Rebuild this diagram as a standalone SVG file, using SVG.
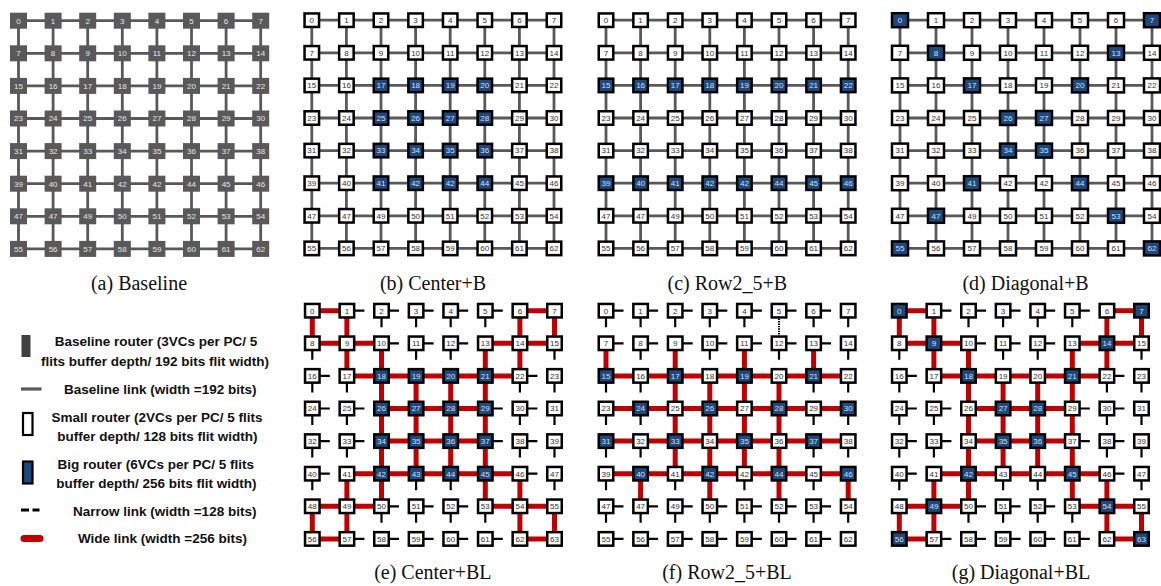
<svg xmlns="http://www.w3.org/2000/svg" xmlns:xlink="http://www.w3.org/1999/xlink" width="1161" height="586" viewBox="0 0 1161 586">
<style>
.nd text{font-family:"Liberation Sans",Arial,sans-serif;font-size:8px;text-anchor:middle;fill:#333}
#nodes-a text{fill:#e6e6e6}
.nd .bn text{fill:#d5dff0}
.gl{fill:none;stroke:#595959;stroke-width:2.8}
.wl{fill:none;stroke:#C00000;stroke-width:5;stroke-linecap:round}
.st{fill:none;stroke:#000;stroke-width:2.2}
.dt{fill:none;stroke:#000;stroke-width:2;stroke-dasharray:1.4 1}
.cap{font-family:"Liberation Serif","Times New Roman",serif;font-size:20px;text-anchor:middle;fill:#111}
.lg{font-family:"Liberation Sans",Arial,sans-serif;font-size:13.5px;font-weight:bold;text-anchor:middle;fill:#111}
</style>
<defs>
<rect id="G" x="-8.5" y="-8" width="17" height="16" fill="#595959"/>
<rect id="W" x="-7.25" y="-6.75" width="14.5" height="13.5" fill="#fff" stroke="#000" stroke-width="2.5"/>
<rect id="B" x="-7.25" y="-6.75" width="14.5" height="13.5" fill="#1F497D" stroke="#000" stroke-width="2.5"/>
<rect id="W2" x="-8" y="-7" width="16" height="14" fill="#fff" stroke="#000" stroke-width="2.5"/>
<rect id="B2" x="-8" y="-7" width="16" height="14" fill="#1F497D" stroke="#000" stroke-width="2.5"/>
<path id="grid" d="M0 0H242.2M0 32.6H242.2M0 65.2H242.2M0 97.8H242.2M0 130.4H242.2M0 163H242.2M0 195.6H242.2M0 228.2H242.2M0 0V228.2M34.6 0V228.2M69.2 0V228.2M103.8 0V228.2M138.4 0V228.2M173 0V228.2M207.6 0V228.2M242.2 0V228.2"/>
<path id="grid2" d="M0 0H252M0 32.6H252M0 65.2H252M0 97.8H252M0 130.4H252M0 163H252M0 195.6H252M0 228.2H252M0 0V228.2M36 0V228.2M72 0V228.2M108 0V228.2M144 0V228.2M180 0V228.2M216 0V228.2M252 0V228.2"/>
<path id="wideEG" d="M0 0H34.6M207.6 0H242.2M0 32.6H69.2M173 32.6H242.2M34.6 65.2H207.6M69.2 97.8H173M69.2 130.4H173M34.6 163H207.6M0 195.6H69.2M173 195.6H242.2M0 228.2H34.6M207.6 228.2H242.2M0 0V32.6M0 195.6V228.2M34.6 0V65.2M34.6 163V228.2M69.2 32.6V195.6M103.8 65.2V163M138.4 65.2V163M173 32.6V195.6M207.6 0V65.2M207.6 163V228.2M242.2 0V32.6M242.2 195.6V228.2"/>
<path id="stubEG" d="M34.6 0h17.5M69.2 0h17.5M103.8 0h17.5M138.4 0h17.5M173 0h17.5M69.2 32.6h17.5M103.8 32.6h17.5M138.4 32.6h17.5M0 65.2h17.5M207.6 65.2h17.5M0 97.8h17.5M34.6 97.8h17.5M173 97.8h17.5M207.6 97.8h17.5M0 130.4h17.5M34.6 130.4h17.5M173 130.4h17.5M207.6 130.4h17.5M0 163h17.5M207.6 163h17.5M69.2 195.6h17.5M103.8 195.6h17.5M138.4 195.6h17.5M34.6 228.2h17.5M69.2 228.2h17.5M103.8 228.2h17.5M138.4 228.2h17.5M173 228.2h17.5M69.2 0v16.5M103.8 0v16.5M138.4 0v16.5M173 0v16.5M0 32.6v16.5M103.8 32.6v16.5M138.4 32.6v16.5M242.2 32.6v16.5M0 65.2v16.5M34.6 65.2v16.5M207.6 65.2v16.5M242.2 65.2v16.5M0 97.8v16.5M34.6 97.8v16.5M207.6 97.8v16.5M242.2 97.8v16.5M0 130.4v16.5M34.6 130.4v16.5M207.6 130.4v16.5M242.2 130.4v16.5M0 163v16.5M103.8 163v16.5M138.4 163v16.5M242.2 163v16.5M69.2 195.6v16.5M103.8 195.6v16.5M138.4 195.6v16.5M173 195.6v16.5"/>
</defs>
<rect width="1161" height="586" fill="#fff"/>
<g id="connectors">
<g id="links-a" transform="translate(18.5,20.7)"><use href="#grid" class="gl"/></g>
<g id="links-b" transform="translate(311.8,20.2)"><use href="#grid" class="gl"/></g>
<g id="links-c" transform="translate(606,20.2)"><use href="#grid" class="gl"/></g>
<g id="links-d" transform="translate(900,20.2)"><use href="#grid2" class="gl"/></g>
<g id="links-e" transform="translate(312.3,310.7)"><use href="#stubEG" class="st"/><use href="#wideEG" class="wl"/></g>
<g id="links-f" transform="translate(606,310.7)">
<path class="st" d="M0 0h17.5M34.6 0h17.5M69.2 0h17.5M103.8 0h17.5M138.4 0h17.5M173 0h17.5M207.6 0h17.5M0 32.6h17.5M34.6 32.6h17.5M69.2 32.6h17.5M103.8 32.6h17.5M138.4 32.6h17.5M173 32.6h17.5M207.6 32.6h17.5M0 195.6h17.5M34.6 195.6h17.5M69.2 195.6h17.5M103.8 195.6h17.5M138.4 195.6h17.5M173 195.6h17.5M207.6 195.6h17.5M0 228.2h17.5M34.6 228.2h17.5M69.2 228.2h17.5M103.8 228.2h17.5M138.4 228.2h17.5M173 228.2h17.5M207.6 228.2h17.5M0 0v16.5M34.6 0v16.5M69.2 0v16.5M103.8 0v16.5M138.4 0v16.5M207.6 0v16.5M242.2 0v16.5M34.6 32.6v16.5M103.8 32.6v16.5M173 32.6v16.5M242.2 32.6v16.5M0 65.2v16.5M34.6 65.2v16.5M207.6 65.2v16.5M242.2 65.2v16.5M0 97.8v16.5M34.6 97.8v16.5M207.6 97.8v16.5M242.2 97.8v16.5M0 130.4v16.5M34.6 130.4v16.5M207.6 130.4v16.5M242.2 130.4v16.5M0 163v16.5M69.2 163v16.5M138.4 163v16.5M207.6 163v16.5M0 195.6v16.5M34.6 195.6v16.5M69.2 195.6v16.5M103.8 195.6v16.5M138.4 195.6v16.5M173 195.6v16.5M207.6 195.6v16.5M242.2 195.6v16.5"/>
<path class="dt" d="M173 8V24.6"/>
<path class="wl" d="M0 65.2H242.2M0 97.8H242.2M0 130.4H242.2M0 163H242.2M0 32.6V65.2M34.6 163V195.6M69.2 32.6V163M103.8 65.2V195.6M138.4 32.6V163M173 65.2V195.6M207.6 32.6V65.2M242.2 163V195.6"/>
</g>
<g id="links-g" transform="translate(899.3,310.7)"><use href="#stubEG" class="st"/><use href="#wideEG" class="wl"/></g>
</g>

<g id="nodes-a" class="nd" transform="translate(18.5,20.7)">
<g id="a-r0c0"><use href="#G"/><text y="2.9">0</text></g>
<g id="a-r0c1"><use href="#G" x="34.6"/><text x="34.6" y="2.9">1</text></g>
<g id="a-r0c2"><use href="#G" x="69.2"/><text x="69.2" y="2.9">2</text></g>
<g id="a-r0c3"><use href="#G" x="103.8"/><text x="103.8" y="2.9">3</text></g>
<g id="a-r0c4"><use href="#G" x="138.4"/><text x="138.4" y="2.9">4</text></g>
<g id="a-r0c5"><use href="#G" x="173"/><text x="173" y="2.9">5</text></g>
<g id="a-r0c6"><use href="#G" x="207.6"/><text x="207.6" y="2.9">6</text></g>
<g id="a-r0c7"><use href="#G" x="242.2"/><text x="242.2" y="2.9">7</text></g>
<g id="a-r1c0"><use href="#G" y="32.6"/><text y="35.5">7</text></g>
<g id="a-r1c1"><use href="#G" x="34.6" y="32.6"/><text x="34.6" y="35.5">8</text></g>
<g id="a-r1c2"><use href="#G" x="69.2" y="32.6"/><text x="69.2" y="35.5">9</text></g>
<g id="a-r1c3"><use href="#G" x="103.8" y="32.6"/><text x="103.8" y="35.5">10</text></g>
<g id="a-r1c4"><use href="#G" x="138.4" y="32.6"/><text x="138.4" y="35.5">11</text></g>
<g id="a-r1c5"><use href="#G" x="173" y="32.6"/><text x="173" y="35.5">12</text></g>
<g id="a-r1c6"><use href="#G" x="207.6" y="32.6"/><text x="207.6" y="35.5">13</text></g>
<g id="a-r1c7"><use href="#G" x="242.2" y="32.6"/><text x="242.2" y="35.5">14</text></g>
<g id="a-r2c0"><use href="#G" y="65.2"/><text y="68.1">15</text></g>
<g id="a-r2c1"><use href="#G" x="34.6" y="65.2"/><text x="34.6" y="68.1">16</text></g>
<g id="a-r2c2"><use href="#G" x="69.2" y="65.2"/><text x="69.2" y="68.1">17</text></g>
<g id="a-r2c3"><use href="#G" x="103.8" y="65.2"/><text x="103.8" y="68.1">18</text></g>
<g id="a-r2c4"><use href="#G" x="138.4" y="65.2"/><text x="138.4" y="68.1">19</text></g>
<g id="a-r2c5"><use href="#G" x="173" y="65.2"/><text x="173" y="68.1">20</text></g>
<g id="a-r2c6"><use href="#G" x="207.6" y="65.2"/><text x="207.6" y="68.1">21</text></g>
<g id="a-r2c7"><use href="#G" x="242.2" y="65.2"/><text x="242.2" y="68.1">22</text></g>
<g id="a-r3c0"><use href="#G" y="97.8"/><text y="100.7">23</text></g>
<g id="a-r3c1"><use href="#G" x="34.6" y="97.8"/><text x="34.6" y="100.7">24</text></g>
<g id="a-r3c2"><use href="#G" x="69.2" y="97.8"/><text x="69.2" y="100.7">25</text></g>
<g id="a-r3c3"><use href="#G" x="103.8" y="97.8"/><text x="103.8" y="100.7">26</text></g>
<g id="a-r3c4"><use href="#G" x="138.4" y="97.8"/><text x="138.4" y="100.7">27</text></g>
<g id="a-r3c5"><use href="#G" x="173" y="97.8"/><text x="173" y="100.7">28</text></g>
<g id="a-r3c6"><use href="#G" x="207.6" y="97.8"/><text x="207.6" y="100.7">29</text></g>
<g id="a-r3c7"><use href="#G" x="242.2" y="97.8"/><text x="242.2" y="100.7">30</text></g>
<g id="a-r4c0"><use href="#G" y="130.4"/><text y="133.3">31</text></g>
<g id="a-r4c1"><use href="#G" x="34.6" y="130.4"/><text x="34.6" y="133.3">32</text></g>
<g id="a-r4c2"><use href="#G" x="69.2" y="130.4"/><text x="69.2" y="133.3">33</text></g>
<g id="a-r4c3"><use href="#G" x="103.8" y="130.4"/><text x="103.8" y="133.3">34</text></g>
<g id="a-r4c4"><use href="#G" x="138.4" y="130.4"/><text x="138.4" y="133.3">35</text></g>
<g id="a-r4c5"><use href="#G" x="173" y="130.4"/><text x="173" y="133.3">36</text></g>
<g id="a-r4c6"><use href="#G" x="207.6" y="130.4"/><text x="207.6" y="133.3">37</text></g>
<g id="a-r4c7"><use href="#G" x="242.2" y="130.4"/><text x="242.2" y="133.3">38</text></g>
<g id="a-r5c0"><use href="#G" y="163"/><text y="165.9">39</text></g>
<g id="a-r5c1"><use href="#G" x="34.6" y="163"/><text x="34.6" y="165.9">40</text></g>
<g id="a-r5c2"><use href="#G" x="69.2" y="163"/><text x="69.2" y="165.9">41</text></g>
<g id="a-r5c3"><use href="#G" x="103.8" y="163"/><text x="103.8" y="165.9">42</text></g>
<g id="a-r5c4"><use href="#G" x="138.4" y="163"/><text x="138.4" y="165.9">42</text></g>
<g id="a-r5c5"><use href="#G" x="173" y="163"/><text x="173" y="165.9">44</text></g>
<g id="a-r5c6"><use href="#G" x="207.6" y="163"/><text x="207.6" y="165.9">45</text></g>
<g id="a-r5c7"><use href="#G" x="242.2" y="163"/><text x="242.2" y="165.9">46</text></g>
<g id="a-r6c0"><use href="#G" y="195.6"/><text y="198.5">47</text></g>
<g id="a-r6c1"><use href="#G" x="34.6" y="195.6"/><text x="34.6" y="198.5">47</text></g>
<g id="a-r6c2"><use href="#G" x="69.2" y="195.6"/><text x="69.2" y="198.5">49</text></g>
<g id="a-r6c3"><use href="#G" x="103.8" y="195.6"/><text x="103.8" y="198.5">50</text></g>
<g id="a-r6c4"><use href="#G" x="138.4" y="195.6"/><text x="138.4" y="198.5">51</text></g>
<g id="a-r6c5"><use href="#G" x="173" y="195.6"/><text x="173" y="198.5">52</text></g>
<g id="a-r6c6"><use href="#G" x="207.6" y="195.6"/><text x="207.6" y="198.5">53</text></g>
<g id="a-r6c7"><use href="#G" x="242.2" y="195.6"/><text x="242.2" y="198.5">54</text></g>
<g id="a-r7c0"><use href="#G" y="228.2"/><text y="231.1">55</text></g>
<g id="a-r7c1"><use href="#G" x="34.6" y="228.2"/><text x="34.6" y="231.1">56</text></g>
<g id="a-r7c2"><use href="#G" x="69.2" y="228.2"/><text x="69.2" y="231.1">57</text></g>
<g id="a-r7c3"><use href="#G" x="103.8" y="228.2"/><text x="103.8" y="231.1">58</text></g>
<g id="a-r7c4"><use href="#G" x="138.4" y="228.2"/><text x="138.4" y="231.1">59</text></g>
<g id="a-r7c5"><use href="#G" x="173" y="228.2"/><text x="173" y="231.1">60</text></g>
<g id="a-r7c6"><use href="#G" x="207.6" y="228.2"/><text x="207.6" y="231.1">61</text></g>
<g id="a-r7c7"><use href="#G" x="242.2" y="228.2"/><text x="242.2" y="231.1">62</text></g>
</g>

<g id="nodes-b" class="nd" transform="translate(311.8,20.2)">
<g id="b-r0c0"><use href="#W"/><text y="2.9">0</text></g>
<g id="b-r0c1"><use href="#W" x="34.6"/><text x="34.6" y="2.9">1</text></g>
<g id="b-r0c2"><use href="#W" x="69.2"/><text x="69.2" y="2.9">2</text></g>
<g id="b-r0c3"><use href="#W" x="103.8"/><text x="103.8" y="2.9">3</text></g>
<g id="b-r0c4"><use href="#W" x="138.4"/><text x="138.4" y="2.9">4</text></g>
<g id="b-r0c5"><use href="#W" x="173"/><text x="173" y="2.9">5</text></g>
<g id="b-r0c6"><use href="#W" x="207.6"/><text x="207.6" y="2.9">6</text></g>
<g id="b-r0c7"><use href="#W" x="242.2"/><text x="242.2" y="2.9">7</text></g>
<g id="b-r1c0"><use href="#W" y="32.6"/><text y="35.5">7</text></g>
<g id="b-r1c1"><use href="#W" x="34.6" y="32.6"/><text x="34.6" y="35.5">8</text></g>
<g id="b-r1c2"><use href="#W" x="69.2" y="32.6"/><text x="69.2" y="35.5">9</text></g>
<g id="b-r1c3"><use href="#W" x="103.8" y="32.6"/><text x="103.8" y="35.5">10</text></g>
<g id="b-r1c4"><use href="#W" x="138.4" y="32.6"/><text x="138.4" y="35.5">11</text></g>
<g id="b-r1c5"><use href="#W" x="173" y="32.6"/><text x="173" y="35.5">12</text></g>
<g id="b-r1c6"><use href="#W" x="207.6" y="32.6"/><text x="207.6" y="35.5">13</text></g>
<g id="b-r1c7"><use href="#W" x="242.2" y="32.6"/><text x="242.2" y="35.5">14</text></g>
<g id="b-r2c0"><use href="#W" y="65.2"/><text y="68.1">15</text></g>
<g id="b-r2c1"><use href="#W" x="34.6" y="65.2"/><text x="34.6" y="68.1">16</text></g>
<g id="b-r2c2" class="bn"><use href="#B" x="69.2" y="65.2"/><text x="69.2" y="68.1">17</text></g>
<g id="b-r2c3" class="bn"><use href="#B" x="103.8" y="65.2"/><text x="103.8" y="68.1">18</text></g>
<g id="b-r2c4" class="bn"><use href="#B" x="138.4" y="65.2"/><text x="138.4" y="68.1">19</text></g>
<g id="b-r2c5" class="bn"><use href="#B" x="173" y="65.2"/><text x="173" y="68.1">20</text></g>
<g id="b-r2c6"><use href="#W" x="207.6" y="65.2"/><text x="207.6" y="68.1">21</text></g>
<g id="b-r2c7"><use href="#W" x="242.2" y="65.2"/><text x="242.2" y="68.1">22</text></g>
<g id="b-r3c0"><use href="#W" y="97.8"/><text y="100.7">23</text></g>
<g id="b-r3c1"><use href="#W" x="34.6" y="97.8"/><text x="34.6" y="100.7">24</text></g>
<g id="b-r3c2" class="bn"><use href="#B" x="69.2" y="97.8"/><text x="69.2" y="100.7">25</text></g>
<g id="b-r3c3" class="bn"><use href="#B" x="103.8" y="97.8"/><text x="103.8" y="100.7">26</text></g>
<g id="b-r3c4" class="bn"><use href="#B" x="138.4" y="97.8"/><text x="138.4" y="100.7">27</text></g>
<g id="b-r3c5" class="bn"><use href="#B" x="173" y="97.8"/><text x="173" y="100.7">28</text></g>
<g id="b-r3c6"><use href="#W" x="207.6" y="97.8"/><text x="207.6" y="100.7">29</text></g>
<g id="b-r3c7"><use href="#W" x="242.2" y="97.8"/><text x="242.2" y="100.7">30</text></g>
<g id="b-r4c0"><use href="#W" y="130.4"/><text y="133.3">31</text></g>
<g id="b-r4c1"><use href="#W" x="34.6" y="130.4"/><text x="34.6" y="133.3">32</text></g>
<g id="b-r4c2" class="bn"><use href="#B" x="69.2" y="130.4"/><text x="69.2" y="133.3">33</text></g>
<g id="b-r4c3" class="bn"><use href="#B" x="103.8" y="130.4"/><text x="103.8" y="133.3">34</text></g>
<g id="b-r4c4" class="bn"><use href="#B" x="138.4" y="130.4"/><text x="138.4" y="133.3">35</text></g>
<g id="b-r4c5" class="bn"><use href="#B" x="173" y="130.4"/><text x="173" y="133.3">36</text></g>
<g id="b-r4c6"><use href="#W" x="207.6" y="130.4"/><text x="207.6" y="133.3">37</text></g>
<g id="b-r4c7"><use href="#W" x="242.2" y="130.4"/><text x="242.2" y="133.3">38</text></g>
<g id="b-r5c0"><use href="#W" y="163"/><text y="165.9">39</text></g>
<g id="b-r5c1"><use href="#W" x="34.6" y="163"/><text x="34.6" y="165.9">40</text></g>
<g id="b-r5c2" class="bn"><use href="#B" x="69.2" y="163"/><text x="69.2" y="165.9">41</text></g>
<g id="b-r5c3" class="bn"><use href="#B" x="103.8" y="163"/><text x="103.8" y="165.9">42</text></g>
<g id="b-r5c4" class="bn"><use href="#B" x="138.4" y="163"/><text x="138.4" y="165.9">42</text></g>
<g id="b-r5c5" class="bn"><use href="#B" x="173" y="163"/><text x="173" y="165.9">44</text></g>
<g id="b-r5c6"><use href="#W" x="207.6" y="163"/><text x="207.6" y="165.9">45</text></g>
<g id="b-r5c7"><use href="#W" x="242.2" y="163"/><text x="242.2" y="165.9">46</text></g>
<g id="b-r6c0"><use href="#W" y="195.6"/><text y="198.5">47</text></g>
<g id="b-r6c1"><use href="#W" x="34.6" y="195.6"/><text x="34.6" y="198.5">47</text></g>
<g id="b-r6c2"><use href="#W" x="69.2" y="195.6"/><text x="69.2" y="198.5">49</text></g>
<g id="b-r6c3"><use href="#W" x="103.8" y="195.6"/><text x="103.8" y="198.5">50</text></g>
<g id="b-r6c4"><use href="#W" x="138.4" y="195.6"/><text x="138.4" y="198.5">51</text></g>
<g id="b-r6c5"><use href="#W" x="173" y="195.6"/><text x="173" y="198.5">52</text></g>
<g id="b-r6c6"><use href="#W" x="207.6" y="195.6"/><text x="207.6" y="198.5">53</text></g>
<g id="b-r6c7"><use href="#W" x="242.2" y="195.6"/><text x="242.2" y="198.5">54</text></g>
<g id="b-r7c0"><use href="#W" y="228.2"/><text y="231.1">55</text></g>
<g id="b-r7c1"><use href="#W" x="34.6" y="228.2"/><text x="34.6" y="231.1">56</text></g>
<g id="b-r7c2"><use href="#W" x="69.2" y="228.2"/><text x="69.2" y="231.1">57</text></g>
<g id="b-r7c3"><use href="#W" x="103.8" y="228.2"/><text x="103.8" y="231.1">58</text></g>
<g id="b-r7c4"><use href="#W" x="138.4" y="228.2"/><text x="138.4" y="231.1">59</text></g>
<g id="b-r7c5"><use href="#W" x="173" y="228.2"/><text x="173" y="231.1">60</text></g>
<g id="b-r7c6"><use href="#W" x="207.6" y="228.2"/><text x="207.6" y="231.1">61</text></g>
<g id="b-r7c7"><use href="#W" x="242.2" y="228.2"/><text x="242.2" y="231.1">62</text></g>
</g>

<g id="nodes-c" class="nd" transform="translate(606,20.2)">
<g id="c-r0c0"><use href="#W"/><text y="2.9">0</text></g>
<g id="c-r0c1"><use href="#W" x="34.6"/><text x="34.6" y="2.9">1</text></g>
<g id="c-r0c2"><use href="#W" x="69.2"/><text x="69.2" y="2.9">2</text></g>
<g id="c-r0c3"><use href="#W" x="103.8"/><text x="103.8" y="2.9">3</text></g>
<g id="c-r0c4"><use href="#W" x="138.4"/><text x="138.4" y="2.9">4</text></g>
<g id="c-r0c5"><use href="#W" x="173"/><text x="173" y="2.9">5</text></g>
<g id="c-r0c6"><use href="#W" x="207.6"/><text x="207.6" y="2.9">6</text></g>
<g id="c-r0c7"><use href="#W" x="242.2"/><text x="242.2" y="2.9">7</text></g>
<g id="c-r1c0"><use href="#W" y="32.6"/><text y="35.5">7</text></g>
<g id="c-r1c1"><use href="#W" x="34.6" y="32.6"/><text x="34.6" y="35.5">8</text></g>
<g id="c-r1c2"><use href="#W" x="69.2" y="32.6"/><text x="69.2" y="35.5">9</text></g>
<g id="c-r1c3"><use href="#W" x="103.8" y="32.6"/><text x="103.8" y="35.5">10</text></g>
<g id="c-r1c4"><use href="#W" x="138.4" y="32.6"/><text x="138.4" y="35.5">11</text></g>
<g id="c-r1c5"><use href="#W" x="173" y="32.6"/><text x="173" y="35.5">12</text></g>
<g id="c-r1c6"><use href="#W" x="207.6" y="32.6"/><text x="207.6" y="35.5">13</text></g>
<g id="c-r1c7"><use href="#W" x="242.2" y="32.6"/><text x="242.2" y="35.5">14</text></g>
<g id="c-r2c0" class="bn"><use href="#B" y="65.2"/><text y="68.1">15</text></g>
<g id="c-r2c1" class="bn"><use href="#B" x="34.6" y="65.2"/><text x="34.6" y="68.1">16</text></g>
<g id="c-r2c2" class="bn"><use href="#B" x="69.2" y="65.2"/><text x="69.2" y="68.1">17</text></g>
<g id="c-r2c3" class="bn"><use href="#B" x="103.8" y="65.2"/><text x="103.8" y="68.1">18</text></g>
<g id="c-r2c4" class="bn"><use href="#B" x="138.4" y="65.2"/><text x="138.4" y="68.1">19</text></g>
<g id="c-r2c5" class="bn"><use href="#B" x="173" y="65.2"/><text x="173" y="68.1">20</text></g>
<g id="c-r2c6" class="bn"><use href="#B" x="207.6" y="65.2"/><text x="207.6" y="68.1">21</text></g>
<g id="c-r2c7" class="bn"><use href="#B" x="242.2" y="65.2"/><text x="242.2" y="68.1">22</text></g>
<g id="c-r3c0"><use href="#W" y="97.8"/><text y="100.7">23</text></g>
<g id="c-r3c1"><use href="#W" x="34.6" y="97.8"/><text x="34.6" y="100.7">24</text></g>
<g id="c-r3c2"><use href="#W" x="69.2" y="97.8"/><text x="69.2" y="100.7">25</text></g>
<g id="c-r3c3"><use href="#W" x="103.8" y="97.8"/><text x="103.8" y="100.7">26</text></g>
<g id="c-r3c4"><use href="#W" x="138.4" y="97.8"/><text x="138.4" y="100.7">27</text></g>
<g id="c-r3c5"><use href="#W" x="173" y="97.8"/><text x="173" y="100.7">28</text></g>
<g id="c-r3c6"><use href="#W" x="207.6" y="97.8"/><text x="207.6" y="100.7">29</text></g>
<g id="c-r3c7"><use href="#W" x="242.2" y="97.8"/><text x="242.2" y="100.7">30</text></g>
<g id="c-r4c0"><use href="#W" y="130.4"/><text y="133.3">31</text></g>
<g id="c-r4c1"><use href="#W" x="34.6" y="130.4"/><text x="34.6" y="133.3">32</text></g>
<g id="c-r4c2"><use href="#W" x="69.2" y="130.4"/><text x="69.2" y="133.3">33</text></g>
<g id="c-r4c3"><use href="#W" x="103.8" y="130.4"/><text x="103.8" y="133.3">34</text></g>
<g id="c-r4c4"><use href="#W" x="138.4" y="130.4"/><text x="138.4" y="133.3">35</text></g>
<g id="c-r4c5"><use href="#W" x="173" y="130.4"/><text x="173" y="133.3">36</text></g>
<g id="c-r4c6"><use href="#W" x="207.6" y="130.4"/><text x="207.6" y="133.3">37</text></g>
<g id="c-r4c7"><use href="#W" x="242.2" y="130.4"/><text x="242.2" y="133.3">38</text></g>
<g id="c-r5c0" class="bn"><use href="#B" y="163"/><text y="165.9">39</text></g>
<g id="c-r5c1" class="bn"><use href="#B" x="34.6" y="163"/><text x="34.6" y="165.9">40</text></g>
<g id="c-r5c2" class="bn"><use href="#B" x="69.2" y="163"/><text x="69.2" y="165.9">41</text></g>
<g id="c-r5c3" class="bn"><use href="#B" x="103.8" y="163"/><text x="103.8" y="165.9">42</text></g>
<g id="c-r5c4" class="bn"><use href="#B" x="138.4" y="163"/><text x="138.4" y="165.9">42</text></g>
<g id="c-r5c5" class="bn"><use href="#B" x="173" y="163"/><text x="173" y="165.9">44</text></g>
<g id="c-r5c6" class="bn"><use href="#B" x="207.6" y="163"/><text x="207.6" y="165.9">45</text></g>
<g id="c-r5c7" class="bn"><use href="#B" x="242.2" y="163"/><text x="242.2" y="165.9">46</text></g>
<g id="c-r6c0"><use href="#W" y="195.6"/><text y="198.5">47</text></g>
<g id="c-r6c1"><use href="#W" x="34.6" y="195.6"/><text x="34.6" y="198.5">47</text></g>
<g id="c-r6c2"><use href="#W" x="69.2" y="195.6"/><text x="69.2" y="198.5">49</text></g>
<g id="c-r6c3"><use href="#W" x="103.8" y="195.6"/><text x="103.8" y="198.5">50</text></g>
<g id="c-r6c4"><use href="#W" x="138.4" y="195.6"/><text x="138.4" y="198.5">51</text></g>
<g id="c-r6c5"><use href="#W" x="173" y="195.6"/><text x="173" y="198.5">52</text></g>
<g id="c-r6c6"><use href="#W" x="207.6" y="195.6"/><text x="207.6" y="198.5">53</text></g>
<g id="c-r6c7"><use href="#W" x="242.2" y="195.6"/><text x="242.2" y="198.5">54</text></g>
<g id="c-r7c0"><use href="#W" y="228.2"/><text y="231.1">55</text></g>
<g id="c-r7c1"><use href="#W" x="34.6" y="228.2"/><text x="34.6" y="231.1">56</text></g>
<g id="c-r7c2"><use href="#W" x="69.2" y="228.2"/><text x="69.2" y="231.1">57</text></g>
<g id="c-r7c3"><use href="#W" x="103.8" y="228.2"/><text x="103.8" y="231.1">58</text></g>
<g id="c-r7c4"><use href="#W" x="138.4" y="228.2"/><text x="138.4" y="231.1">59</text></g>
<g id="c-r7c5"><use href="#W" x="173" y="228.2"/><text x="173" y="231.1">60</text></g>
<g id="c-r7c6"><use href="#W" x="207.6" y="228.2"/><text x="207.6" y="231.1">61</text></g>
<g id="c-r7c7"><use href="#W" x="242.2" y="228.2"/><text x="242.2" y="231.1">62</text></g>
</g>

<g id="nodes-d" class="nd" transform="translate(900,20.2)">
<g id="d-r0c0" class="bn"><use href="#B2"/><text y="2.9">0</text></g>
<g id="d-r0c1"><use href="#W2" x="36"/><text x="36" y="2.9">1</text></g>
<g id="d-r0c2"><use href="#W2" x="72"/><text x="72" y="2.9">2</text></g>
<g id="d-r0c3"><use href="#W2" x="108"/><text x="108" y="2.9">3</text></g>
<g id="d-r0c4"><use href="#W2" x="144"/><text x="144" y="2.9">4</text></g>
<g id="d-r0c5"><use href="#W2" x="180"/><text x="180" y="2.9">5</text></g>
<g id="d-r0c6"><use href="#W2" x="216"/><text x="216" y="2.9">6</text></g>
<g id="d-r0c7" class="bn"><use href="#B2" x="252"/><text x="252" y="2.9">7</text></g>
<g id="d-r1c0"><use href="#W2" y="32.6"/><text y="35.5">7</text></g>
<g id="d-r1c1" class="bn"><use href="#B2" x="36" y="32.6"/><text x="36" y="35.5">8</text></g>
<g id="d-r1c2"><use href="#W2" x="72" y="32.6"/><text x="72" y="35.5">9</text></g>
<g id="d-r1c3"><use href="#W2" x="108" y="32.6"/><text x="108" y="35.5">10</text></g>
<g id="d-r1c4"><use href="#W2" x="144" y="32.6"/><text x="144" y="35.5">11</text></g>
<g id="d-r1c5"><use href="#W2" x="180" y="32.6"/><text x="180" y="35.5">12</text></g>
<g id="d-r1c6" class="bn"><use href="#B2" x="216" y="32.6"/><text x="216" y="35.5">13</text></g>
<g id="d-r1c7"><use href="#W2" x="252" y="32.6"/><text x="252" y="35.5">14</text></g>
<g id="d-r2c0"><use href="#W2" y="65.2"/><text y="68.1">15</text></g>
<g id="d-r2c1"><use href="#W2" x="36" y="65.2"/><text x="36" y="68.1">16</text></g>
<g id="d-r2c2" class="bn"><use href="#B2" x="72" y="65.2"/><text x="72" y="68.1">17</text></g>
<g id="d-r2c3"><use href="#W2" x="108" y="65.2"/><text x="108" y="68.1">18</text></g>
<g id="d-r2c4"><use href="#W2" x="144" y="65.2"/><text x="144" y="68.1">19</text></g>
<g id="d-r2c5" class="bn"><use href="#B2" x="180" y="65.2"/><text x="180" y="68.1">20</text></g>
<g id="d-r2c6"><use href="#W2" x="216" y="65.2"/><text x="216" y="68.1">21</text></g>
<g id="d-r2c7"><use href="#W2" x="252" y="65.2"/><text x="252" y="68.1">22</text></g>
<g id="d-r3c0"><use href="#W2" y="97.8"/><text y="100.7">23</text></g>
<g id="d-r3c1"><use href="#W2" x="36" y="97.8"/><text x="36" y="100.7">24</text></g>
<g id="d-r3c2"><use href="#W2" x="72" y="97.8"/><text x="72" y="100.7">25</text></g>
<g id="d-r3c3" class="bn"><use href="#B2" x="108" y="97.8"/><text x="108" y="100.7">26</text></g>
<g id="d-r3c4" class="bn"><use href="#B2" x="144" y="97.8"/><text x="144" y="100.7">27</text></g>
<g id="d-r3c5"><use href="#W2" x="180" y="97.8"/><text x="180" y="100.7">28</text></g>
<g id="d-r3c6"><use href="#W2" x="216" y="97.8"/><text x="216" y="100.7">29</text></g>
<g id="d-r3c7"><use href="#W2" x="252" y="97.8"/><text x="252" y="100.7">30</text></g>
<g id="d-r4c0"><use href="#W2" y="130.4"/><text y="133.3">31</text></g>
<g id="d-r4c1"><use href="#W2" x="36" y="130.4"/><text x="36" y="133.3">32</text></g>
<g id="d-r4c2"><use href="#W2" x="72" y="130.4"/><text x="72" y="133.3">33</text></g>
<g id="d-r4c3" class="bn"><use href="#B2" x="108" y="130.4"/><text x="108" y="133.3">34</text></g>
<g id="d-r4c4" class="bn"><use href="#B2" x="144" y="130.4"/><text x="144" y="133.3">35</text></g>
<g id="d-r4c5"><use href="#W2" x="180" y="130.4"/><text x="180" y="133.3">36</text></g>
<g id="d-r4c6"><use href="#W2" x="216" y="130.4"/><text x="216" y="133.3">37</text></g>
<g id="d-r4c7"><use href="#W2" x="252" y="130.4"/><text x="252" y="133.3">38</text></g>
<g id="d-r5c0"><use href="#W2" y="163"/><text y="165.9">39</text></g>
<g id="d-r5c1"><use href="#W2" x="36" y="163"/><text x="36" y="165.9">40</text></g>
<g id="d-r5c2" class="bn"><use href="#B2" x="72" y="163"/><text x="72" y="165.9">41</text></g>
<g id="d-r5c3"><use href="#W2" x="108" y="163"/><text x="108" y="165.9">42</text></g>
<g id="d-r5c4"><use href="#W2" x="144" y="163"/><text x="144" y="165.9">42</text></g>
<g id="d-r5c5" class="bn"><use href="#B2" x="180" y="163"/><text x="180" y="165.9">44</text></g>
<g id="d-r5c6"><use href="#W2" x="216" y="163"/><text x="216" y="165.9">45</text></g>
<g id="d-r5c7"><use href="#W2" x="252" y="163"/><text x="252" y="165.9">46</text></g>
<g id="d-r6c0"><use href="#W2" y="195.6"/><text y="198.5">47</text></g>
<g id="d-r6c1" class="bn"><use href="#B2" x="36" y="195.6"/><text x="36" y="198.5">47</text></g>
<g id="d-r6c2"><use href="#W2" x="72" y="195.6"/><text x="72" y="198.5">49</text></g>
<g id="d-r6c3"><use href="#W2" x="108" y="195.6"/><text x="108" y="198.5">50</text></g>
<g id="d-r6c4"><use href="#W2" x="144" y="195.6"/><text x="144" y="198.5">51</text></g>
<g id="d-r6c5"><use href="#W2" x="180" y="195.6"/><text x="180" y="198.5">52</text></g>
<g id="d-r6c6" class="bn"><use href="#B2" x="216" y="195.6"/><text x="216" y="198.5">53</text></g>
<g id="d-r6c7"><use href="#W2" x="252" y="195.6"/><text x="252" y="198.5">54</text></g>
<g id="d-r7c0" class="bn"><use href="#B2" y="228.2"/><text y="231.1">55</text></g>
<g id="d-r7c1"><use href="#W2" x="36" y="228.2"/><text x="36" y="231.1">56</text></g>
<g id="d-r7c2"><use href="#W2" x="72" y="228.2"/><text x="72" y="231.1">57</text></g>
<g id="d-r7c3"><use href="#W2" x="108" y="228.2"/><text x="108" y="231.1">58</text></g>
<g id="d-r7c4"><use href="#W2" x="144" y="228.2"/><text x="144" y="231.1">59</text></g>
<g id="d-r7c5"><use href="#W2" x="180" y="228.2"/><text x="180" y="231.1">60</text></g>
<g id="d-r7c6"><use href="#W2" x="216" y="228.2"/><text x="216" y="231.1">61</text></g>
<g id="d-r7c7" class="bn"><use href="#B2" x="252" y="228.2"/><text x="252" y="231.1">62</text></g>
</g>

<g id="nodes-e" class="nd" transform="translate(312.3,310.7)">
<g id="e-r0c0"><use href="#W"/><text y="2.9">0</text></g>
<g id="e-r0c1"><use href="#W" x="34.6"/><text x="34.6" y="2.9">1</text></g>
<g id="e-r0c2"><use href="#W" x="69.2"/><text x="69.2" y="2.9">2</text></g>
<g id="e-r0c3"><use href="#W" x="103.8"/><text x="103.8" y="2.9">3</text></g>
<g id="e-r0c4"><use href="#W" x="138.4"/><text x="138.4" y="2.9">4</text></g>
<g id="e-r0c5"><use href="#W" x="173"/><text x="173" y="2.9">5</text></g>
<g id="e-r0c6"><use href="#W" x="207.6"/><text x="207.6" y="2.9">6</text></g>
<g id="e-r0c7"><use href="#W" x="242.2"/><text x="242.2" y="2.9">7</text></g>
<g id="e-r1c0"><use href="#W" y="32.6"/><text y="35.5">8</text></g>
<g id="e-r1c1"><use href="#W" x="34.6" y="32.6"/><text x="34.6" y="35.5">9</text></g>
<g id="e-r1c2"><use href="#W" x="69.2" y="32.6"/><text x="69.2" y="35.5">10</text></g>
<g id="e-r1c3"><use href="#W" x="103.8" y="32.6"/><text x="103.8" y="35.5">11</text></g>
<g id="e-r1c4"><use href="#W" x="138.4" y="32.6"/><text x="138.4" y="35.5">12</text></g>
<g id="e-r1c5"><use href="#W" x="173" y="32.6"/><text x="173" y="35.5">13</text></g>
<g id="e-r1c6"><use href="#W" x="207.6" y="32.6"/><text x="207.6" y="35.5">14</text></g>
<g id="e-r1c7"><use href="#W" x="242.2" y="32.6"/><text x="242.2" y="35.5">15</text></g>
<g id="e-r2c0"><use href="#W" y="65.2"/><text y="68.1">16</text></g>
<g id="e-r2c1"><use href="#W" x="34.6" y="65.2"/><text x="34.6" y="68.1">17</text></g>
<g id="e-r2c2" class="bn"><use href="#B" x="69.2" y="65.2"/><text x="69.2" y="68.1">18</text></g>
<g id="e-r2c3" class="bn"><use href="#B" x="103.8" y="65.2"/><text x="103.8" y="68.1">19</text></g>
<g id="e-r2c4" class="bn"><use href="#B" x="138.4" y="65.2"/><text x="138.4" y="68.1">20</text></g>
<g id="e-r2c5" class="bn"><use href="#B" x="173" y="65.2"/><text x="173" y="68.1">21</text></g>
<g id="e-r2c6"><use href="#W" x="207.6" y="65.2"/><text x="207.6" y="68.1">22</text></g>
<g id="e-r2c7"><use href="#W" x="242.2" y="65.2"/><text x="242.2" y="68.1">23</text></g>
<g id="e-r3c0"><use href="#W" y="97.8"/><text y="100.7">24</text></g>
<g id="e-r3c1"><use href="#W" x="34.6" y="97.8"/><text x="34.6" y="100.7">25</text></g>
<g id="e-r3c2" class="bn"><use href="#B" x="69.2" y="97.8"/><text x="69.2" y="100.7">26</text></g>
<g id="e-r3c3" class="bn"><use href="#B" x="103.8" y="97.8"/><text x="103.8" y="100.7">27</text></g>
<g id="e-r3c4" class="bn"><use href="#B" x="138.4" y="97.8"/><text x="138.4" y="100.7">28</text></g>
<g id="e-r3c5" class="bn"><use href="#B" x="173" y="97.8"/><text x="173" y="100.7">29</text></g>
<g id="e-r3c6"><use href="#W" x="207.6" y="97.8"/><text x="207.6" y="100.7">30</text></g>
<g id="e-r3c7"><use href="#W" x="242.2" y="97.8"/><text x="242.2" y="100.7">31</text></g>
<g id="e-r4c0"><use href="#W" y="130.4"/><text y="133.3">32</text></g>
<g id="e-r4c1"><use href="#W" x="34.6" y="130.4"/><text x="34.6" y="133.3">33</text></g>
<g id="e-r4c2" class="bn"><use href="#B" x="69.2" y="130.4"/><text x="69.2" y="133.3">34</text></g>
<g id="e-r4c3" class="bn"><use href="#B" x="103.8" y="130.4"/><text x="103.8" y="133.3">35</text></g>
<g id="e-r4c4" class="bn"><use href="#B" x="138.4" y="130.4"/><text x="138.4" y="133.3">36</text></g>
<g id="e-r4c5" class="bn"><use href="#B" x="173" y="130.4"/><text x="173" y="133.3">37</text></g>
<g id="e-r4c6"><use href="#W" x="207.6" y="130.4"/><text x="207.6" y="133.3">38</text></g>
<g id="e-r4c7"><use href="#W" x="242.2" y="130.4"/><text x="242.2" y="133.3">39</text></g>
<g id="e-r5c0"><use href="#W" y="163"/><text y="165.9">40</text></g>
<g id="e-r5c1"><use href="#W" x="34.6" y="163"/><text x="34.6" y="165.9">41</text></g>
<g id="e-r5c2" class="bn"><use href="#B" x="69.2" y="163"/><text x="69.2" y="165.9">42</text></g>
<g id="e-r5c3" class="bn"><use href="#B" x="103.8" y="163"/><text x="103.8" y="165.9">43</text></g>
<g id="e-r5c4" class="bn"><use href="#B" x="138.4" y="163"/><text x="138.4" y="165.9">44</text></g>
<g id="e-r5c5" class="bn"><use href="#B" x="173" y="163"/><text x="173" y="165.9">45</text></g>
<g id="e-r5c6"><use href="#W" x="207.6" y="163"/><text x="207.6" y="165.9">46</text></g>
<g id="e-r5c7"><use href="#W" x="242.2" y="163"/><text x="242.2" y="165.9">47</text></g>
<g id="e-r6c0"><use href="#W" y="195.6"/><text y="198.5">48</text></g>
<g id="e-r6c1"><use href="#W" x="34.6" y="195.6"/><text x="34.6" y="198.5">49</text></g>
<g id="e-r6c2"><use href="#W" x="69.2" y="195.6"/><text x="69.2" y="198.5">50</text></g>
<g id="e-r6c3"><use href="#W" x="103.8" y="195.6"/><text x="103.8" y="198.5">51</text></g>
<g id="e-r6c4"><use href="#W" x="138.4" y="195.6"/><text x="138.4" y="198.5">52</text></g>
<g id="e-r6c5"><use href="#W" x="173" y="195.6"/><text x="173" y="198.5">53</text></g>
<g id="e-r6c6"><use href="#W" x="207.6" y="195.6"/><text x="207.6" y="198.5">54</text></g>
<g id="e-r6c7"><use href="#W" x="242.2" y="195.6"/><text x="242.2" y="198.5">55</text></g>
<g id="e-r7c0"><use href="#W" y="228.2"/><text y="231.1">56</text></g>
<g id="e-r7c1"><use href="#W" x="34.6" y="228.2"/><text x="34.6" y="231.1">57</text></g>
<g id="e-r7c2"><use href="#W" x="69.2" y="228.2"/><text x="69.2" y="231.1">58</text></g>
<g id="e-r7c3"><use href="#W" x="103.8" y="228.2"/><text x="103.8" y="231.1">59</text></g>
<g id="e-r7c4"><use href="#W" x="138.4" y="228.2"/><text x="138.4" y="231.1">60</text></g>
<g id="e-r7c5"><use href="#W" x="173" y="228.2"/><text x="173" y="231.1">61</text></g>
<g id="e-r7c6"><use href="#W" x="207.6" y="228.2"/><text x="207.6" y="231.1">62</text></g>
<g id="e-r7c7"><use href="#W" x="242.2" y="228.2"/><text x="242.2" y="231.1">63</text></g>
</g>

<g id="nodes-f" class="nd" transform="translate(606,310.7)">
<g id="f-r0c0"><use href="#W"/><text y="2.9">0</text></g>
<g id="f-r0c1"><use href="#W" x="34.6"/><text x="34.6" y="2.9">1</text></g>
<g id="f-r0c2"><use href="#W" x="69.2"/><text x="69.2" y="2.9">2</text></g>
<g id="f-r0c3"><use href="#W" x="103.8"/><text x="103.8" y="2.9">3</text></g>
<g id="f-r0c4"><use href="#W" x="138.4"/><text x="138.4" y="2.9">4</text></g>
<g id="f-r0c5"><use href="#W" x="173"/><text x="173" y="2.9">5</text></g>
<g id="f-r0c6"><use href="#W" x="207.6"/><text x="207.6" y="2.9">6</text></g>
<g id="f-r0c7"><use href="#W" x="242.2"/><text x="242.2" y="2.9">7</text></g>
<g id="f-r1c0"><use href="#W" y="32.6"/><text y="35.5">7</text></g>
<g id="f-r1c1"><use href="#W" x="34.6" y="32.6"/><text x="34.6" y="35.5">8</text></g>
<g id="f-r1c2"><use href="#W" x="69.2" y="32.6"/><text x="69.2" y="35.5">9</text></g>
<g id="f-r1c3"><use href="#W" x="103.8" y="32.6"/><text x="103.8" y="35.5">10</text></g>
<g id="f-r1c4"><use href="#W" x="138.4" y="32.6"/><text x="138.4" y="35.5">11</text></g>
<g id="f-r1c5"><use href="#W" x="173" y="32.6"/><text x="173" y="35.5">12</text></g>
<g id="f-r1c6"><use href="#W" x="207.6" y="32.6"/><text x="207.6" y="35.5">13</text></g>
<g id="f-r1c7"><use href="#W" x="242.2" y="32.6"/><text x="242.2" y="35.5">14</text></g>
<g id="f-r2c0" class="bn"><use href="#B" y="65.2"/><text y="68.1">15</text></g>
<g id="f-r2c1"><use href="#W" x="34.6" y="65.2"/><text x="34.6" y="68.1">16</text></g>
<g id="f-r2c2" class="bn"><use href="#B" x="69.2" y="65.2"/><text x="69.2" y="68.1">17</text></g>
<g id="f-r2c3"><use href="#W" x="103.8" y="65.2"/><text x="103.8" y="68.1">18</text></g>
<g id="f-r2c4" class="bn"><use href="#B" x="138.4" y="65.2"/><text x="138.4" y="68.1">19</text></g>
<g id="f-r2c5"><use href="#W" x="173" y="65.2"/><text x="173" y="68.1">20</text></g>
<g id="f-r2c6" class="bn"><use href="#B" x="207.6" y="65.2"/><text x="207.6" y="68.1">21</text></g>
<g id="f-r2c7"><use href="#W" x="242.2" y="65.2"/><text x="242.2" y="68.1">22</text></g>
<g id="f-r3c0"><use href="#W" y="97.8"/><text y="100.7">23</text></g>
<g id="f-r3c1" class="bn"><use href="#B" x="34.6" y="97.8"/><text x="34.6" y="100.7">24</text></g>
<g id="f-r3c2"><use href="#W" x="69.2" y="97.8"/><text x="69.2" y="100.7">25</text></g>
<g id="f-r3c3" class="bn"><use href="#B" x="103.8" y="97.8"/><text x="103.8" y="100.7">26</text></g>
<g id="f-r3c4"><use href="#W" x="138.4" y="97.8"/><text x="138.4" y="100.7">27</text></g>
<g id="f-r3c5" class="bn"><use href="#B" x="173" y="97.8"/><text x="173" y="100.7">28</text></g>
<g id="f-r3c6"><use href="#W" x="207.6" y="97.8"/><text x="207.6" y="100.7">29</text></g>
<g id="f-r3c7" class="bn"><use href="#B" x="242.2" y="97.8"/><text x="242.2" y="100.7">30</text></g>
<g id="f-r4c0" class="bn"><use href="#B" y="130.4"/><text y="133.3">31</text></g>
<g id="f-r4c1"><use href="#W" x="34.6" y="130.4"/><text x="34.6" y="133.3">32</text></g>
<g id="f-r4c2" class="bn"><use href="#B" x="69.2" y="130.4"/><text x="69.2" y="133.3">33</text></g>
<g id="f-r4c3"><use href="#W" x="103.8" y="130.4"/><text x="103.8" y="133.3">34</text></g>
<g id="f-r4c4" class="bn"><use href="#B" x="138.4" y="130.4"/><text x="138.4" y="133.3">35</text></g>
<g id="f-r4c5"><use href="#W" x="173" y="130.4"/><text x="173" y="133.3">36</text></g>
<g id="f-r4c6" class="bn"><use href="#B" x="207.6" y="130.4"/><text x="207.6" y="133.3">37</text></g>
<g id="f-r4c7"><use href="#W" x="242.2" y="130.4"/><text x="242.2" y="133.3">38</text></g>
<g id="f-r5c0"><use href="#W" y="163"/><text y="165.9">39</text></g>
<g id="f-r5c1" class="bn"><use href="#B" x="34.6" y="163"/><text x="34.6" y="165.9">40</text></g>
<g id="f-r5c2"><use href="#W" x="69.2" y="163"/><text x="69.2" y="165.9">41</text></g>
<g id="f-r5c3" class="bn"><use href="#B" x="103.8" y="163"/><text x="103.8" y="165.9">42</text></g>
<g id="f-r5c4"><use href="#W" x="138.4" y="163"/><text x="138.4" y="165.9">42</text></g>
<g id="f-r5c5" class="bn"><use href="#B" x="173" y="163"/><text x="173" y="165.9">44</text></g>
<g id="f-r5c6"><use href="#W" x="207.6" y="163"/><text x="207.6" y="165.9">45</text></g>
<g id="f-r5c7" class="bn"><use href="#B" x="242.2" y="163"/><text x="242.2" y="165.9">46</text></g>
<g id="f-r6c0"><use href="#W" y="195.6"/><text y="198.5">47</text></g>
<g id="f-r6c1"><use href="#W" x="34.6" y="195.6"/><text x="34.6" y="198.5">47</text></g>
<g id="f-r6c2"><use href="#W" x="69.2" y="195.6"/><text x="69.2" y="198.5">49</text></g>
<g id="f-r6c3"><use href="#W" x="103.8" y="195.6"/><text x="103.8" y="198.5">50</text></g>
<g id="f-r6c4"><use href="#W" x="138.4" y="195.6"/><text x="138.4" y="198.5">51</text></g>
<g id="f-r6c5"><use href="#W" x="173" y="195.6"/><text x="173" y="198.5">52</text></g>
<g id="f-r6c6"><use href="#W" x="207.6" y="195.6"/><text x="207.6" y="198.5">53</text></g>
<g id="f-r6c7"><use href="#W" x="242.2" y="195.6"/><text x="242.2" y="198.5">54</text></g>
<g id="f-r7c0"><use href="#W" y="228.2"/><text y="231.1">55</text></g>
<g id="f-r7c1"><use href="#W" x="34.6" y="228.2"/><text x="34.6" y="231.1">56</text></g>
<g id="f-r7c2"><use href="#W" x="69.2" y="228.2"/><text x="69.2" y="231.1">57</text></g>
<g id="f-r7c3"><use href="#W" x="103.8" y="228.2"/><text x="103.8" y="231.1">58</text></g>
<g id="f-r7c4"><use href="#W" x="138.4" y="228.2"/><text x="138.4" y="231.1">59</text></g>
<g id="f-r7c5"><use href="#W" x="173" y="228.2"/><text x="173" y="231.1">60</text></g>
<g id="f-r7c6"><use href="#W" x="207.6" y="228.2"/><text x="207.6" y="231.1">61</text></g>
<g id="f-r7c7"><use href="#W" x="242.2" y="228.2"/><text x="242.2" y="231.1">62</text></g>
</g>

<g id="nodes-g" class="nd" transform="translate(899.3,310.7)">
<g id="g-r0c0" class="bn"><use href="#B"/><text y="2.9">0</text></g>
<g id="g-r0c1"><use href="#W" x="34.6"/><text x="34.6" y="2.9">1</text></g>
<g id="g-r0c2"><use href="#W" x="69.2"/><text x="69.2" y="2.9">2</text></g>
<g id="g-r0c3"><use href="#W" x="103.8"/><text x="103.8" y="2.9">3</text></g>
<g id="g-r0c4"><use href="#W" x="138.4"/><text x="138.4" y="2.9">4</text></g>
<g id="g-r0c5"><use href="#W" x="173"/><text x="173" y="2.9">5</text></g>
<g id="g-r0c6"><use href="#W" x="207.6"/><text x="207.6" y="2.9">6</text></g>
<g id="g-r0c7" class="bn"><use href="#B" x="242.2"/><text x="242.2" y="2.9">7</text></g>
<g id="g-r1c0"><use href="#W" y="32.6"/><text y="35.5">8</text></g>
<g id="g-r1c1" class="bn"><use href="#B" x="34.6" y="32.6"/><text x="34.6" y="35.5">9</text></g>
<g id="g-r1c2"><use href="#W" x="69.2" y="32.6"/><text x="69.2" y="35.5">10</text></g>
<g id="g-r1c3"><use href="#W" x="103.8" y="32.6"/><text x="103.8" y="35.5">11</text></g>
<g id="g-r1c4"><use href="#W" x="138.4" y="32.6"/><text x="138.4" y="35.5">12</text></g>
<g id="g-r1c5"><use href="#W" x="173" y="32.6"/><text x="173" y="35.5">13</text></g>
<g id="g-r1c6" class="bn"><use href="#B" x="207.6" y="32.6"/><text x="207.6" y="35.5">14</text></g>
<g id="g-r1c7"><use href="#W" x="242.2" y="32.6"/><text x="242.2" y="35.5">15</text></g>
<g id="g-r2c0"><use href="#W" y="65.2"/><text y="68.1">16</text></g>
<g id="g-r2c1"><use href="#W" x="34.6" y="65.2"/><text x="34.6" y="68.1">17</text></g>
<g id="g-r2c2" class="bn"><use href="#B" x="69.2" y="65.2"/><text x="69.2" y="68.1">18</text></g>
<g id="g-r2c3"><use href="#W" x="103.8" y="65.2"/><text x="103.8" y="68.1">19</text></g>
<g id="g-r2c4"><use href="#W" x="138.4" y="65.2"/><text x="138.4" y="68.1">20</text></g>
<g id="g-r2c5" class="bn"><use href="#B" x="173" y="65.2"/><text x="173" y="68.1">21</text></g>
<g id="g-r2c6"><use href="#W" x="207.6" y="65.2"/><text x="207.6" y="68.1">22</text></g>
<g id="g-r2c7"><use href="#W" x="242.2" y="65.2"/><text x="242.2" y="68.1">23</text></g>
<g id="g-r3c0"><use href="#W" y="97.8"/><text y="100.7">24</text></g>
<g id="g-r3c1"><use href="#W" x="34.6" y="97.8"/><text x="34.6" y="100.7">25</text></g>
<g id="g-r3c2"><use href="#W" x="69.2" y="97.8"/><text x="69.2" y="100.7">26</text></g>
<g id="g-r3c3" class="bn"><use href="#B" x="103.8" y="97.8"/><text x="103.8" y="100.7">27</text></g>
<g id="g-r3c4" class="bn"><use href="#B" x="138.4" y="97.8"/><text x="138.4" y="100.7">28</text></g>
<g id="g-r3c5"><use href="#W" x="173" y="97.8"/><text x="173" y="100.7">29</text></g>
<g id="g-r3c6"><use href="#W" x="207.6" y="97.8"/><text x="207.6" y="100.7">30</text></g>
<g id="g-r3c7"><use href="#W" x="242.2" y="97.8"/><text x="242.2" y="100.7">31</text></g>
<g id="g-r4c0"><use href="#W" y="130.4"/><text y="133.3">32</text></g>
<g id="g-r4c1"><use href="#W" x="34.6" y="130.4"/><text x="34.6" y="133.3">33</text></g>
<g id="g-r4c2"><use href="#W" x="69.2" y="130.4"/><text x="69.2" y="133.3">34</text></g>
<g id="g-r4c3" class="bn"><use href="#B" x="103.8" y="130.4"/><text x="103.8" y="133.3">35</text></g>
<g id="g-r4c4" class="bn"><use href="#B" x="138.4" y="130.4"/><text x="138.4" y="133.3">36</text></g>
<g id="g-r4c5"><use href="#W" x="173" y="130.4"/><text x="173" y="133.3">37</text></g>
<g id="g-r4c6"><use href="#W" x="207.6" y="130.4"/><text x="207.6" y="133.3">38</text></g>
<g id="g-r4c7"><use href="#W" x="242.2" y="130.4"/><text x="242.2" y="133.3">39</text></g>
<g id="g-r5c0"><use href="#W" y="163"/><text y="165.9">40</text></g>
<g id="g-r5c1"><use href="#W" x="34.6" y="163"/><text x="34.6" y="165.9">41</text></g>
<g id="g-r5c2" class="bn"><use href="#B" x="69.2" y="163"/><text x="69.2" y="165.9">42</text></g>
<g id="g-r5c3"><use href="#W" x="103.8" y="163"/><text x="103.8" y="165.9">43</text></g>
<g id="g-r5c4"><use href="#W" x="138.4" y="163"/><text x="138.4" y="165.9">44</text></g>
<g id="g-r5c5" class="bn"><use href="#B" x="173" y="163"/><text x="173" y="165.9">45</text></g>
<g id="g-r5c6"><use href="#W" x="207.6" y="163"/><text x="207.6" y="165.9">46</text></g>
<g id="g-r5c7"><use href="#W" x="242.2" y="163"/><text x="242.2" y="165.9">47</text></g>
<g id="g-r6c0"><use href="#W" y="195.6"/><text y="198.5">48</text></g>
<g id="g-r6c1" class="bn"><use href="#B" x="34.6" y="195.6"/><text x="34.6" y="198.5">49</text></g>
<g id="g-r6c2"><use href="#W" x="69.2" y="195.6"/><text x="69.2" y="198.5">50</text></g>
<g id="g-r6c3"><use href="#W" x="103.8" y="195.6"/><text x="103.8" y="198.5">51</text></g>
<g id="g-r6c4"><use href="#W" x="138.4" y="195.6"/><text x="138.4" y="198.5">52</text></g>
<g id="g-r6c5"><use href="#W" x="173" y="195.6"/><text x="173" y="198.5">53</text></g>
<g id="g-r6c6" class="bn"><use href="#B" x="207.6" y="195.6"/><text x="207.6" y="198.5">54</text></g>
<g id="g-r6c7"><use href="#W" x="242.2" y="195.6"/><text x="242.2" y="198.5">55</text></g>
<g id="g-r7c0" class="bn"><use href="#B" y="228.2"/><text y="231.1">56</text></g>
<g id="g-r7c1"><use href="#W" x="34.6" y="228.2"/><text x="34.6" y="231.1">57</text></g>
<g id="g-r7c2"><use href="#W" x="69.2" y="228.2"/><text x="69.2" y="231.1">58</text></g>
<g id="g-r7c3"><use href="#W" x="103.8" y="228.2"/><text x="103.8" y="231.1">59</text></g>
<g id="g-r7c4"><use href="#W" x="138.4" y="228.2"/><text x="138.4" y="231.1">60</text></g>
<g id="g-r7c5"><use href="#W" x="173" y="228.2"/><text x="173" y="231.1">61</text></g>
<g id="g-r7c6"><use href="#W" x="207.6" y="228.2"/><text x="207.6" y="231.1">62</text></g>
<g id="g-r7c7" class="bn"><use href="#B" x="242.2" y="228.2"/><text x="242.2" y="231.1">63</text></g>
</g>

<g id="captions">
<text class="cap" x="139" y="289.5">(a) Baseline</text>
<text class="cap" x="433" y="289.5">(b) Center+B</text>
<text class="cap" x="727.3" y="289.5">(c) Row2_5+B</text>
<text class="cap" x="1025.5" y="289.5">(d) Diagonal+B</text>
<text class="cap" x="432.8" y="578.5">(e) Center+BL</text>
<text class="cap" x="727" y="578.5">(f) Row2_5+BL</text>
<text class="cap" x="1021" y="578.5">(g) Diagonal+BL</text>
</g>

<g id="legend">
<rect x="21.5" y="335" width="9" height="22" fill="#404040"/>
<path d="M21 389H41.5" stroke="#595959" stroke-width="3.2"/>
<rect x="23" y="413" width="9.5" height="22" fill="#fff" stroke="#000" stroke-width="2.2"/>
<rect x="23" y="461.5" width="9.5" height="22" fill="#1F497D" stroke="#000" stroke-width="2.2"/>
<path d="M21 510H39.5" stroke="#000" stroke-width="3" stroke-dasharray="8 3.5"/>
<path d="M24 538.5H40" stroke="#C00000" stroke-width="7" stroke-linecap="round"/>
<text class="lg" x="156" y="345.5">Baseline router (3VCs per PC/ 5</text>
<text class="lg" x="155" y="365.5">flits buffer depth/ 192 bits flit width)</text>
<text class="lg" x="160.3" y="393.8">Baseline link (width =192 bits)</text>
<text class="lg" x="157" y="421.5">Small router (2VCs per PC/ 5 flits</text>
<text class="lg" x="157.3" y="440.5">buffer depth/ 128 bits flit width)</text>
<text class="lg" x="155.7" y="468.8">Big router (6VCs per PC/ 5 flits</text>
<text class="lg" x="156.3" y="487.5">buffer depth/ 256 bits flit width)</text>
<text class="lg" x="164.7" y="515.5">Narrow link (width =128 bits)</text>
<text class="lg" x="162.5" y="543">Wide link (width =256 bits)</text>
</g>
</svg>
